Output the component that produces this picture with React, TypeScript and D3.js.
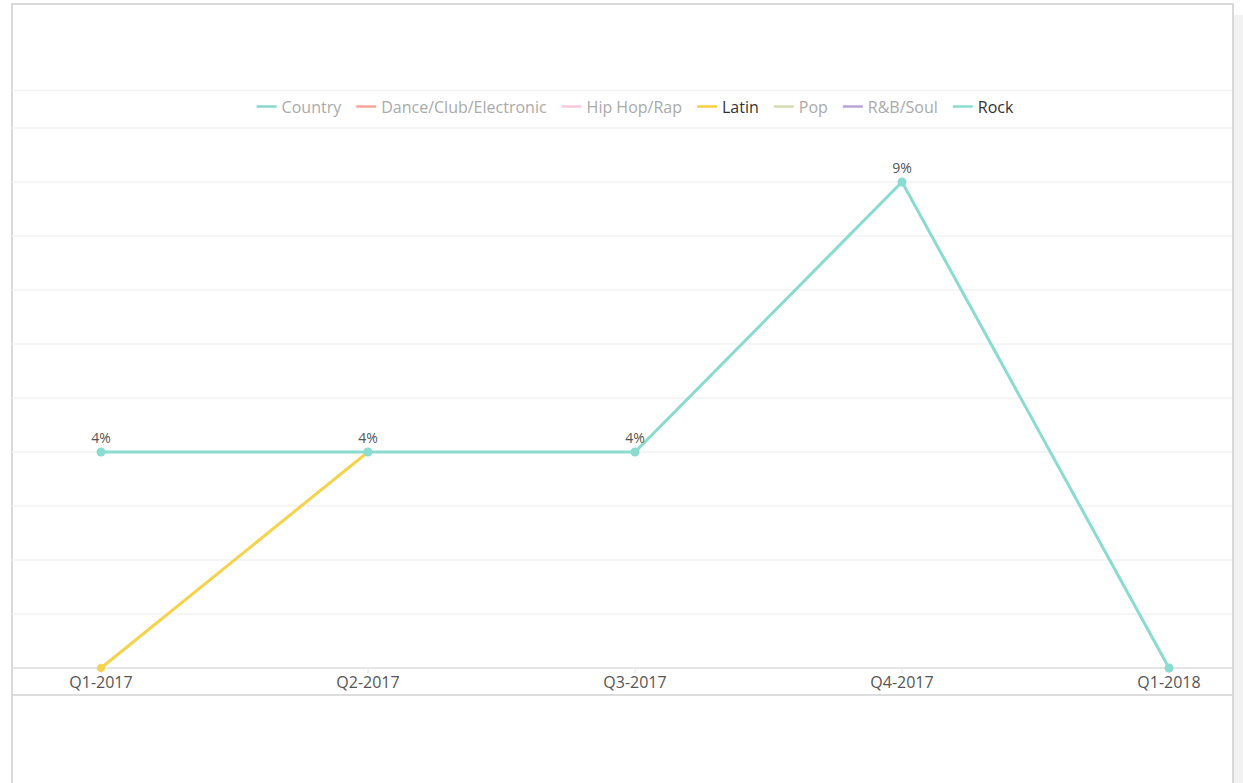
import React from "react";
import * as d3 from "d3";

const quarters = ["Q1-2017", "Q2-2017", "Q3-2017", "Q4-2017", "Q1-2018"];
const rockValues: (number | null)[] = [4, 4, 4, 9, 0];
const latinValues: (number | null)[] = [0, 4, null, null, null];
const legendNames = ["Country", "Dance/Club/Electronic", "Hip Hop/Rap", "Latin", "Pop", "R&B/Soul", "Rock"];
const legendColors = ["#86d8cb", "#f5a89a", "#f6c9e1", "#f6d03f", "#d6dcb2", "#b8a4d8", "#8adbd0"];
const legendActive = [false, false, false, true, false, false, true];
const yTicks = [0, 1, 2, 3, 4, 5, 6, 7, 8, 9, 10];

const W = 1243;
const H = 783;
const FONT = "'Open Sans', 'Noto Sans', sans-serif";

function measure(text: string, size: number) {
  const c = document.createElement("canvas").getContext("2d");
  if (!c) return text.length * size * 0.55;
  c.font = `${size}px 'Open Sans'`;
  return c.measureText(text).width;
}

export default function App() {
  const left = 12;
  const right = 1232;
  const x = d3.scalePoint<string>().domain(quarters).range([101, 1169]);
  const y = d3.scaleLinear().domain([0, 10]).range([668, 128]);

  const line = d3
    .line<{ q: string; v: number | null }>()
    .defined((d) => d.v !== null)
    .x((d) => x(d.q) as number)
    .y((d) => y(d.v as number));

  const rock = quarters.map((q, i) => ({ q, v: rockValues[i] }));
  const latin = quarters.map((q, i) => ({ q, v: latinValues[i] }));

  // legend layout
  const fs = 16;
  const sw = 20;
  const gapText = 5;
  const gapItem = 15;
  const widths = legendNames.map((n) => measure(n, fs));
  const total = widths.reduce((a, w) => a + sw + gapText + w, 0) + gapItem * (legendNames.length - 1);
  let cx = 635 - total / 2;
  const legendItems = legendNames.map((n, i) => {
    const item = { n, x: cx, color: legendColors[i], active: legendActive[i] };
    cx += sw + gapText + widths[i] + gapItem;
    return item;
  });

  return (
    <svg
      width={W}
      height={H}
      style={{ position: "absolute", left: 0, top: 0, background: "#fff" }}
      fontFamily={FONT}
    >
      <rect x={1234} y={15} width={W - 1234} height={H - 15} fill="#f2f2f2" />
      <rect x={12} y={4} width={1221} height={H} fill="#fff" stroke="#d9d9d9" strokeWidth={2} />
      {/* gridlines */}
      <line x1={left} x2={right} y1={90.5} y2={90.5} stroke="#f2f2f2" strokeWidth={1.5} />
      {yTicks.slice(1).map((t) => (
        <line key={t} x1={left} x2={right} y1={y(t)} y2={y(t)} stroke="#f2f2f2" strokeWidth={1.5} />
      ))}
      {/* axis */}
      <line x1={left} x2={right} y1={668} y2={668} stroke="#dcdcdc" strokeWidth={1.5} />
      <line x1={left} x2={right} y1={695} y2={695} stroke="#d2d2d2" strokeWidth={1.5} />
      {quarters.map((q) => (
        <g key={q}>
          <line x1={x(q)} x2={x(q)} y1={668} y2={673} stroke="#e2e2e2" strokeWidth={1} />
          <text x={x(q)} y={688} textAnchor="middle" fontSize={16} fill="#555">
            {q}
          </text>
        </g>
      ))}
      {/* legend */}
      {legendItems.map((it) => (
        <g key={it.n}>
          <line x1={it.x} x2={it.x + sw} y1={106.5} y2={106.5} stroke={it.color} strokeWidth={2.5} />
          <text x={it.x + sw + gapText} y={113} fontSize={fs} fill={it.active ? "#333" : "#aaa"}>
            {it.n}
          </text>
        </g>
      ))}
      {/* series */}
      <path d={line(latin) || ""} fill="none" stroke="#f6d34c" strokeWidth={3} />
      {latin
        .filter((d) => d.v !== null)
        .map((d) => (
          <circle key={"l" + d.q} cx={x(d.q)} cy={y(d.v as number)} r={4} fill="#f6d34c" />
        ))}
      <path d={line(rock) || ""} fill="none" stroke="#8adbd0" strokeWidth={3} />
      {rock.map((d) => (
        <circle key={"r" + d.q} cx={x(d.q)} cy={y(d.v as number)} r={4.5} fill="#8adbd0" />
      ))}
      {rock
        .filter((d) => (d.v as number) > 0)
        .map((d) => (
          <text
            key={"t" + d.q}
            x={x(d.q)}
            y={y(d.v as number) - 9}
            textAnchor="middle"
            fontSize={14}
            fill="#555"
          >
            {d3.format(".0f")(d.v as number)}%
          </text>
        ))}
    </svg>
  );
}
